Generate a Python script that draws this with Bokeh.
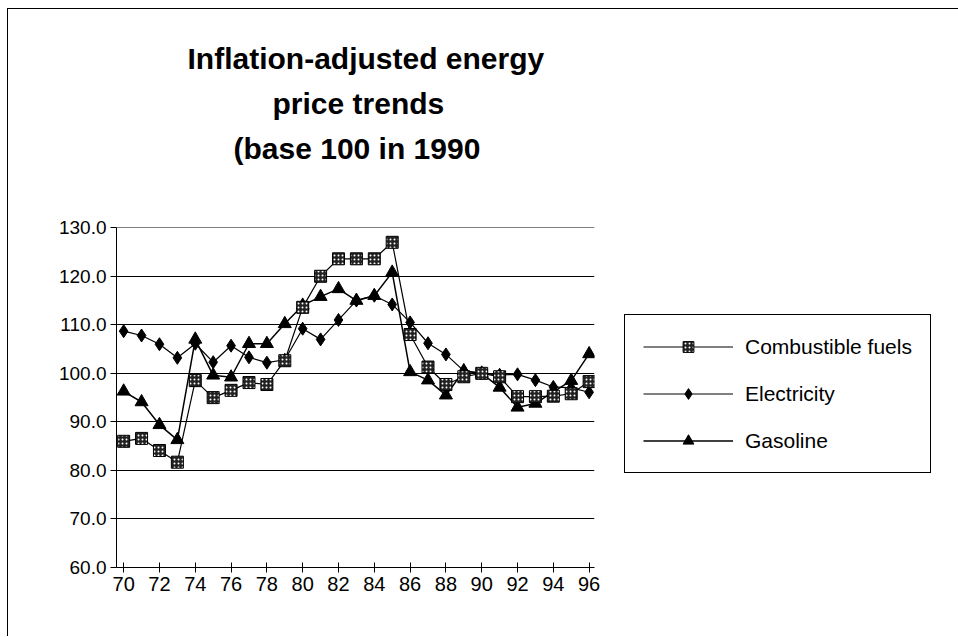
from bokeh.plotting import figure
from bokeh.models import (Range1d, FixedTicker, NumeralTickFormatter, Legend,
                          LegendItem, Title)
from bokeh.embed import file_html
from bokeh.resources import INLINE

# ---- data ----
years = list(range(70, 97))
combustible_fuels = [86.0, 86.6, 84.1, 81.7, 98.5, 95.0, 96.5, 98.1, 97.7, 102.6,
                     113.6, 120.0, 123.6, 123.6, 123.6, 127.0, 108.0, 101.3, 97.7,
                     99.3, 100.0, 99.3, 95.2, 95.2, 95.3, 95.8, 98.3]
electricity = [108.7, 107.8, 106.0, 103.2, 106.1, 102.3, 105.7, 103.3, 102.2, 102.8,
               109.2, 107.0, 111.0, 115.0, 116.0, 114.2, 110.5, 106.2, 103.9,
               100.5, 100.0, 99.7, 99.8, 98.6, 97.2, 97.0, 96.1]
gasoline = [96.3, 94.1, 89.4, 86.3, 107.0, 99.6, 99.2, 106.1, 106.1, 110.2,
            114.0, 115.8, 117.4, 115.0, 116.0, 120.8, 100.3, 98.6, 95.5,
            100.5, 100.0, 97.1, 93.0, 93.8, 96.2, 98.5, 104.0]
x_ticks = list(range(70, 97, 2))
y_ticks = [60, 70, 80, 90, 100, 110, 120, 130]
series_names = ["Combustible fuels", "Electricity", "Gasoline"]
title_lines = ["Inflation-adjusted  energy", "price  trends", "(base  100  in  1990"]
title_offsets = [71, 156, 117]

FONT = "Liberation Sans"

p = figure(frame_width=478, frame_height=340,
           min_border_left=108, min_border_right=363,
           min_border_top=218, min_border_bottom=69,
           x_range=Range1d(69.6, 96.3), y_range=Range1d(60, 130.05),
           output_backend="svg", toolbar_location=None, title=None)
p.margin = (8, 0, 0, 7)
p.styles = {"border-top": "1px solid black", "border-left": "1px solid black"}
p.outline_line_color = None
p.background_fill_color = "white"
p.border_fill_color = "white"

# spacer between the plot and the title block
p.add_layout(Title(text=" ", text_font=FONT, text_font_size="10px",
                   standoff=45), "above")
# titles: added from the innermost (closest to the plot) outward
for txt, off in zip(reversed(title_lines), reversed(title_offsets)):
    p.add_layout(Title(text=txt, align="left", offset=off, text_font=FONT,
                       text_font_size="30px", text_font_style="bold",
                       text_color="black", standoff=10), "above")

# axes
p.xaxis.ticker = FixedTicker(ticks=x_ticks)
p.yaxis.ticker = FixedTicker(ticks=y_ticks)
p.yaxis.formatter = NumeralTickFormatter(format="0.0")
for ax in (p.xaxis, p.yaxis):
    ax.axis_line_color = "black"
    ax.major_tick_line_color = "black"
    ax.minor_tick_line_color = None
    ax.major_label_text_font = FONT
    ax.major_label_text_color = "black"
p.xaxis.major_label_text_font_size = "20px"
p.yaxis.major_label_text_font_size = "19px"
p.xaxis.major_tick_in = 5
p.xaxis.major_tick_out = 5
p.xaxis.major_label_standoff = 4
p.yaxis.major_tick_in = 0
p.yaxis.major_tick_out = 6
p.yaxis.major_label_standoff = 4
p.xgrid.grid_line_color = None
p.ygrid.grid_line_color = "black"
p.ygrid.grid_line_width = 1.2

# series
l_e = p.line(years, electricity, line_color="black", line_width=1.2)
s_e = p.scatter(years, electricity, marker="diamond", size=13,
                fill_color="black", line_color="black")
l_g = p.line(years, gasoline, line_color="black", line_width=1.5)
s_g = p.scatter(years, gasoline, marker="triangle", size=13,
                fill_color="black", line_color="black")
l_c = p.line(years, combustible_fuels, line_color="black", line_width=1.2)
s_c = p.scatter(years, combustible_fuels, marker="square", size=12,
                fill_color="#222222", line_color="black",
                hatch_pattern="dot", hatch_color="white", hatch_scale=4,
                hatch_weight=1.2)

legend = Legend(items=[
    LegendItem(label=series_names[0], renderers=[l_c, s_c]),
    LegendItem(label=series_names[1], renderers=[l_e, s_e]),
    LegendItem(label=series_names[2], renderers=[l_g, s_g]),
], location=(30, 94), orientation="vertical",
   glyph_width=90, glyph_height=27, label_height=27, label_standoff=12,
   spacing=20, padding=18, margin=0,
   label_text_font=FONT, label_text_font_size="21px", label_text_color="black",
   border_line_color="black", border_line_width=1.2, border_line_alpha=1.0,
   background_fill_alpha=1, background_fill_color="white")
p.add_layout(legend, "right")

open("out.html", "w").write(file_html(p, INLINE))
